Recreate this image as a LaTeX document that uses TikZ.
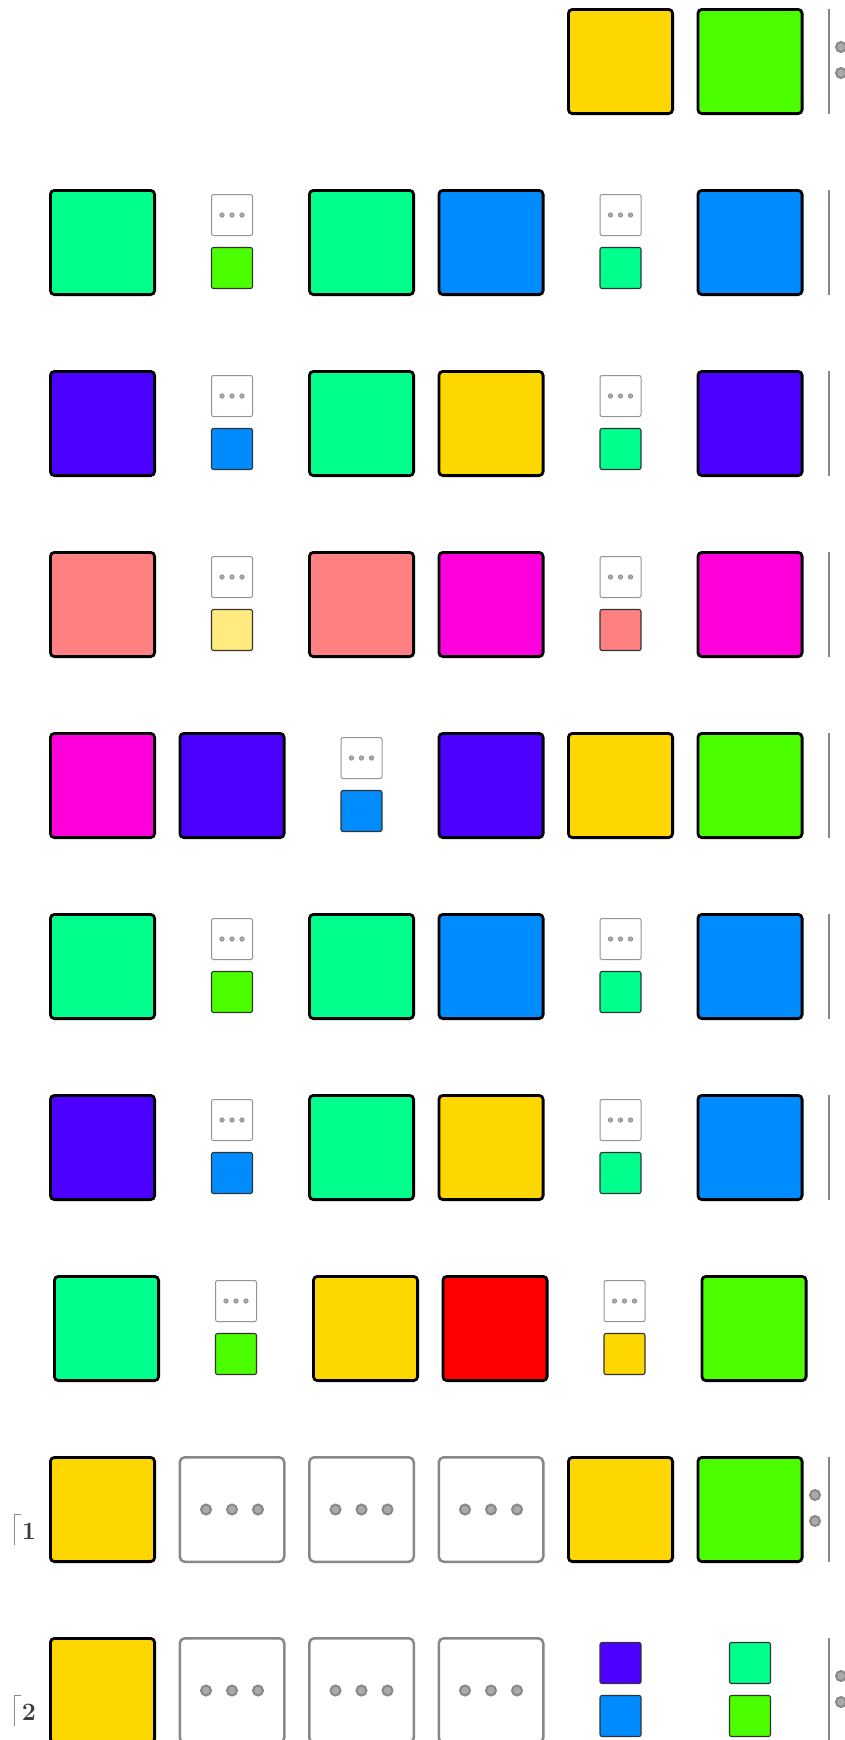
\documentclass[tikz,border=0pt]{standalone}
\usepackage{fontspec}
\definecolor{cYel}{RGB}{255,215,0}
\definecolor{cLime}{RGB}{76,255,0}
\definecolor{cTeal}{RGB}{0,255,140}
\definecolor{cBlue}{RGB}{0,140,255}
\definecolor{cPur}{RGB}{76,0,255}
\definecolor{cMag}{RGB}{255,0,220}
\definecolor{cSal}{RGB}{255,128,128}
\definecolor{cLYel}{RGB}{255,235,128}
\definecolor{cRed}{RGB}{255,0,0}
\definecolor{cGrayLine}{RGB}{136,136,136}
\definecolor{cDotFill}{RGB}{170,170,170}
\definecolor{cLabel}{RGB}{60,60,60}
\tikzset{
  bigsq/.style={draw=black, line width=2.8pt, rounded corners=4pt, minimum size=104.2pt, inner sep=0pt},
  smallsq/.style={draw=black!80, line width=1.1pt, rounded corners=2pt, minimum size=41pt, inner sep=0pt},
  sdotsbox/.style={draw=cGrayLine!90, line width=1pt, fill=white, rounded corners=2pt, minimum size=41pt, inner sep=0pt},
  bdotsbox/.style={draw=cGrayLine, line width=2.5pt, fill=white, rounded corners=5pt, minimum size=104.5pt, inner sep=0pt},
  sdot/.style={circle, draw=cGrayLine, fill=cDotFill, line width=0.6pt, minimum size=4.5pt, inner sep=0pt},
  bdot/.style={circle, draw=cGrayLine, fill=cDotFill, line width=2pt, minimum size=10pt, inner sep=0pt},
  rline/.style={draw=cGrayLine, line width=2.5pt},
  lblbracket/.style={draw=cGrayLine, line width=1pt},
  lbltext/.style={text=cLabel, font=\fontsize{25}{25}\selectfont\bfseries, inner sep=0pt}
}
\def\xo{0}
\def\yo{-1}
% big square
\newcommand\Sq[4]{\node[bigsq, fill=#4] (#1) at ({102.5+\xo+129.5*#3},{62.5+\yo+181*#2}) {};}
% dots box over small coloured square
\newcommand\Pair[4]{%
  \node[sdotsbox] (#1a) at ({102.5+\xo+129.5*#3},{62.5+\yo+181*#2-27.5}) {};
  \node[sdot] (#1d1) at ([xshift=-10pt]#1a.center) {};
  \node[sdot] (#1d2) at (#1a.center) {};
  \node[sdot] (#1d3) at ([xshift=10pt]#1a.center) {};
  \node[smallsq, fill=#4] (#1b) at ({102.5+\xo+129.5*#3},{62.5+\yo+181*#2+25.5}) {};}
% two small coloured squares
\newcommand\Two[5]{%
  \node[smallsq, fill=#4] (#1a) at ({102.5+\xo+129.5*#3},{62.5+\yo+181*#2-27.5}) {};
  \node[smallsq, fill=#5] (#1b) at ({102.5+\xo+129.5*#3},{62.5+\yo+181*#2+25.5}) {};}
% big dots box
\newcommand\BDots[3]{%
  \node[bdotsbox] (#1) at ({102.5+129.5*#3},{62.5+\yo+181*#2}) {};
  \node[bdot] (#1d1) at ([xshift=-26pt]#1.center) {};
  \node[bdot] (#1d2) at (#1.center) {};
  \node[bdot] (#1d3) at ([xshift=26pt]#1.center) {};}
% right vertical line
\newcommand\RLine[1]{\draw[rline] (829,{9+\yo+181*#1+1}) -- (829,{9+\yo+181*#1+106});}
% two circles
\newcommand\Circs[3]{%
  \node[bdot] (#1u) at (#3,{9+\yo+181*#2+39}) {};
  \node[bdot] (#1l) at (#3,{9+\yo+181*#2+65}) {};}
% label
\newcommand\Lbl[3]{%
  \draw[lblbracket] (14,{9+\yo+181*#2+89}) -- (14,{9+\yo+181*#2+58}) -- (21,{9+\yo+181*#2+58});
  \node[lbltext] (#1) at (29,{9+\yo+181*#2+75}) {#3};}
\begin{document}
\begin{tikzpicture}[x=1pt,y=-1pt]
\useasboundingbox (0,0) rectangle (845,1740);
\fill[white] (0,0) rectangle (845,1740);
% row 0
\Sq{r0c4}{0}{4}{cYel}
\Sq{r0c5}{0}{5}{cLime}
\RLine{0}
\Circs{r0o}{0}{841}
% row 1
\Sq{r1c0}{1}{0}{cTeal}
\Pair{r1c1}{1}{1}{cLime}
\Sq{r1c2}{1}{2}{cTeal}
\Sq{r1c3}{1}{3}{cBlue}
\Pair{r1c4}{1}{4}{cTeal}
\Sq{r1c5}{1}{5}{cBlue}
\RLine{1}
% row 2
\Sq{r2c0}{2}{0}{cPur}
\Pair{r2c1}{2}{1}{cBlue}
\Sq{r2c2}{2}{2}{cTeal}
\Sq{r2c3}{2}{3}{cYel}
\Pair{r2c4}{2}{4}{cTeal}
\Sq{r2c5}{2}{5}{cPur}
\RLine{2}
% row 3
\Sq{r3c0}{3}{0}{cSal}
\Pair{r3c1}{3}{1}{cLYel}
\Sq{r3c2}{3}{2}{cSal}
\Sq{r3c3}{3}{3}{cMag}
\Pair{r3c4}{3}{4}{cSal}
\Sq{r3c5}{3}{5}{cMag}
\RLine{3}
% row 4
\Sq{r4c0}{4}{0}{cMag}
\Sq{r4c1}{4}{1}{cPur}
\Pair{r4c2}{4}{2}{cBlue}
\Sq{r4c3}{4}{3}{cPur}
\Sq{r4c4}{4}{4}{cYel}
\Sq{r4c5}{4}{5}{cLime}
\RLine{4}
% row 5
\Sq{r5c0}{5}{0}{cTeal}
\Pair{r5c1}{5}{1}{cLime}
\Sq{r5c2}{5}{2}{cTeal}
\Sq{r5c3}{5}{3}{cBlue}
\Pair{r5c4}{5}{4}{cTeal}
\Sq{r5c5}{5}{5}{cBlue}
\RLine{5}
% row 6
\Sq{r6c0}{6}{0}{cPur}
\Pair{r6c1}{6}{1}{cBlue}
\Sq{r6c2}{6}{2}{cTeal}
\Sq{r6c3}{6}{3}{cYel}
\Pair{r6c4}{6}{4}{cTeal}
\Sq{r6c5}{6}{5}{cBlue}
\RLine{6}
% row 7 (shifted)
\def\xo{4}
\Sq{r7c0}{7}{0}{cTeal}
\Pair{r7c1}{7}{1}{cLime}
\Sq{r7c2}{7}{2}{cYel}
\Sq{r7c3}{7}{3}{cRed}
\Pair{r7c4}{7}{4}{cYel}
\Sq{r7c5}{7}{5}{cLime}
\def\xo{0}
% row 8
\Lbl{r8lbl}{8}{1}
\Sq{r8c0}{8}{0}{cYel}
\BDots{r8c1}{8}{1}
\BDots{r8c2}{8}{2}
\BDots{r8c3}{8}{3}
\Sq{r8c4}{8}{4}{cYel}
\Sq{r8c5}{8}{5}{cLime}
\Circs{r8o}{8}{815}
\RLine{8}
% row 9
\Lbl{r9lbl}{9}{2}
\Sq{r9c0}{9}{0}{cYel}
\BDots{r9c1}{9}{1}
\BDots{r9c2}{9}{2}
\BDots{r9c3}{9}{3}
\Two{r9c4}{9}{4}{cPur}{cBlue}
\Two{r9c5}{9}{5}{cTeal}{cLime}
\RLine{9}
\Circs{r9o}{9}{841}
\end{tikzpicture}
\end{document}
